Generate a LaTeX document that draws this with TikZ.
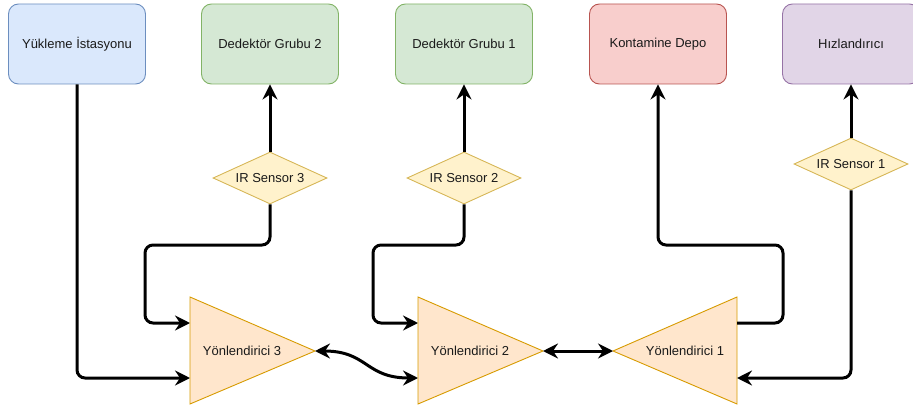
\documentclass[tikz,border=0pt]{standalone}
\usepackage{fontspec}
\setmainfont{Liberation Sans}
\usetikzlibrary{arrows.meta,shapes.geometric}

\definecolor{loadFill}{HTML}{DAE8FC}
\definecolor{loadLine}{HTML}{6C8EBF}
\definecolor{detFill}{HTML}{D5E8D4}
\definecolor{detLine}{HTML}{82B366}
\definecolor{depoFill}{HTML}{F8CECC}
\definecolor{depoLine}{HTML}{B85450}
\definecolor{accelFill}{HTML}{E1D5E7}
\definecolor{accelLine}{HTML}{9673A6}
\definecolor{sensorFill}{HTML}{FFF2CC}
\definecolor{sensorLine}{HTML}{D6B656}
\definecolor{routerFill}{HTML}{FFE6CC}
\definecolor{routerLine}{HTML}{D79B00}
\definecolor{labelText}{HTML}{1A1A1A}

\tikzset{
  station/.style={draw, rounded corners=10pt, line width=0.9pt,
    minimum width=137pt, minimum height=80pt},
  sensor/.style={diamond, draw=sensorLine, fill=sensorFill, line width=0.9pt,
    aspect=2.2, inner sep=0pt, minimum width=114pt, minimum height=52pt},
  router/.style={draw=routerLine, fill=routerFill, line width=0.9pt},
  link/.style={line width=3pt, rounded corners=8pt, -{Stealth[length=15pt,width=15pt,inset=5pt]}},
  twoway/.style={link, {Stealth[length=15pt,width=15pt,inset=5pt]}-{Stealth[length=15pt,width=15pt,inset=5pt]}},
}

\begin{document}
\begin{tikzpicture}[x=1pt, y=-1pt, font=\fontsize{13}{15}\selectfont, text=labelText]
    \useasboundingbox (0,0) rectangle (913,412);

    % top row of stations
    \node[station, fill=loadFill, draw=loadLine] (load) at (77,44) {Yükleme İstasyonu};
    \node[station, fill=detFill, draw=detLine] (det2) at (270,44) {Dedektör Grubu 2};
    \node[station, fill=detFill, draw=detLine] (det1) at (464,44) {Dedektör Grubu 1};
    \node[station, fill=depoFill, draw=depoLine] (depo) at (658,44) {Kontamine Depo};
    \node[station, fill=accelFill, draw=accelLine] (accel) at (851,44) {Hızlandırıcı};

    % sensors
    \node[sensor] (ir3) at (270,178) {IR Sensor 3};
    \node[sensor] (ir2) at (464,178) {IR Sensor 2};
    \node[sensor] (ir1) at (851,164) {IR Sensor 1};

    % routers (triangles)
    \draw[router] (190,297) -- (315,351) -- (190,404) -- cycle;
    \draw[router] (418,297) -- (543,351) -- (418,404) -- cycle;
    \draw[router] (737,297) -- (613,351) -- (737,404) -- cycle;
    \node (y3) at (242,351) {Yönlendirici 3};
    \node (y2) at (470,351) {Yönlendirici 2};
    \node (y1) at (685,351) {Yönlendirici 1};

    \coordinate (y3in1) at (190,323);
    \coordinate (y3in2) at (190,378);
    \coordinate (y3tip) at (315,351);
    \coordinate (y2in1) at (418,323);
    \coordinate (y2in2) at (418,378);
    \coordinate (y2tip) at (543,351);
    \coordinate (y1tip) at (613,351);
    \coordinate (y1out) at (737,323);
    \coordinate (y1in) at (737,378);

    % connectors
    \draw[link] (load.south) |- (y3in2);
    \draw[link] (ir3.north) -- (det2.south);
    \draw[link] (ir2.north) -- (det1.south);
    \draw[link] (ir1.north) -- (accel.south);
    \draw[link] (ir3.south) -- (270,245) -| (145,323) -- (y3in1);
    \draw[link] (ir2.south) -- (464,245) -| (373,323) -- (y2in1);
    \draw[link] (y1out) -- (783,323) |- (658,245) -- (depo.south);
    \draw[link] (ir1.south) |- (y1in);
    \draw[twoway] (y3tip) .. controls (368,351) and (365,378) .. (y2in2);
    \draw[twoway] (y2tip) -- (y1tip);
\end{tikzpicture}
\end{document}
